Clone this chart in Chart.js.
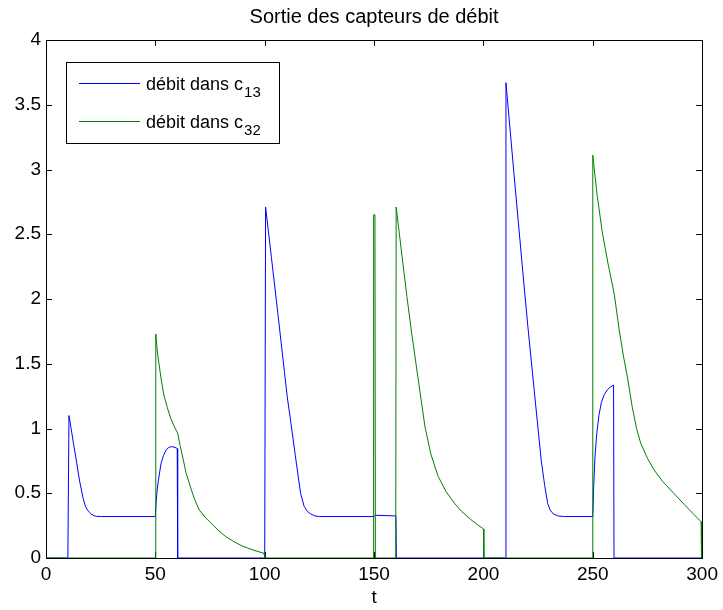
<!DOCTYPE html>
<html>
<head>
<meta charset="utf-8">
<script src="https://cdn.jsdelivr.net/npm/chart.js@4/dist/chart.umd.min.js"></script>
<style>
  html, body { margin: 0; padding: 0; background: #fff; }
  #wrap { width: 723px; height: 610px; }
</style>
</head>
<body>
<div id="wrap"><canvas id="chart" width="723" height="610"></canvas></div>
<script>
const titleText = 'Sortie des capteurs de débit';
const xLabel = 't';
const legendLabels = ['débit dans c', 'débit dans c'];
const legendSubs = ['13', '32'];

// débit dans c13
const tBlue = [0, 10, 10.5, 11.5, 12.5, 14, 15.2, 16.2, 17, 18, 19, 20, 21, 22, 23, 25,
  50, 50.3, 50.8, 51.4, 52.6, 53.7, 54.9, 56, 57.2, 58.5, 59.5, 60, 60.2,
  100, 100.4, 103, 106, 109, 110.3, 112, 114, 116.4, 118, 119.5, 121, 123, 125,
  150, 150.5, 160, 160.2,
  210, 210.3, 214, 218, 220.3, 223, 226.4, 228, 229.4, 230.5, 232, 234, 237,
  250, 250.4, 251, 251.8, 252.8, 253.9, 255.2, 256.7, 258, 259.5, 259.7, 300];
const yBlue = [0, 0, 1.10, 1.0, 0.89, 0.74, 0.61, 0.525, 0.46, 0.40, 0.37, 0.35, 0.335, 0.327, 0.322, 0.32,
  0.32, 0.42, 0.52, 0.6, 0.73, 0.79, 0.834, 0.852, 0.86, 0.857, 0.85, 0.845, 0,
  0, 2.71, 2.33, 1.89, 1.44, 1.245, 1.04, 0.79, 0.50, 0.40, 0.36, 0.34, 0.325, 0.32,
  0.32, 0.33, 0.325, 0,
  0, 3.67, 2.96, 2.21, 1.79, 1.33, 0.757, 0.56, 0.42, 0.37, 0.34, 0.325, 0.32,
  0.32, 0.55, 0.78, 0.96, 1.1, 1.2, 1.26, 1.3, 1.32, 1.335, 0, 0];

// débit dans c32
const tGreen = [0, 50, 50.2, 51, 52.7, 54, 55.5, 57, 58.5, 60.2, 61.3, 62.5, 64, 66, 68, 70.1,
  73, 76, 79, 82.2, 86, 90, 95, 99.7, 100,
  149.6, 149.8, 150.4, 150.6,
  159.9, 160.1, 163, 165, 167.2, 170, 173.3, 176, 179.3, 183, 186.9, 190, 194, 197.5, 200, 200.2,
  249.8, 250, 252, 254.4, 257, 259.8, 262, 264, 265.8, 268, 270, 271.9, 275, 278, 282, 287, 292,
  296, 298.4, 299.5, 299.7, 300];
const yGreen = [0, 0, 1.73, 1.58, 1.375, 1.25, 1.16, 1.08, 1.02, 0.963, 0.87, 0.78, 0.66, 0.55, 0.45, 0.37,
  0.31, 0.26, 0.21, 0.165, 0.125, 0.09, 0.06, 0.036, 0,
  0, 2.65, 2.65, 0,
  0, 2.71, 2.30, 2.02, 1.735, 1.40, 1.01, 0.80, 0.63, 0.51, 0.42, 0.36, 0.30, 0.255, 0.225, 0,
  0, 3.11, 2.80, 2.51, 2.27, 2.04, 1.77, 1.56, 1.40, 1.17, 1.0, 0.886, 0.77, 0.68, 0.59, 0.50, 0.41,
  0.34, 0.30, 0.28, 0, 0];

const xTicks = [0, 50, 100, 150, 200, 250, 300];
const yTicks = [0, 0.5, 1, 1.5, 2, 2.5, 3, 3.5, 4];

const fontFamily = '"Liberation Sans", Arial, Helvetica, sans-serif';
const blue = '#0000ff';
const green = '#008000';

const toPoints = (ts, ys) => ts.map((t, i) => ({ x: t, y: ys[i] }));

// box, inward tick marks, title and legend, MATLAB style
const matlabAxes = {
  id: 'matlabAxes',
  beforeDatasetsDraw(chart) {
    const { ctx, chartArea: a, scales } = chart;
    const tl = 6;
    ctx.save();
    ctx.strokeStyle = '#000';
    ctx.lineWidth = 1;
    ctx.strokeRect(Math.round(a.left) + 0.5, Math.round(a.top) + 0.5,
      Math.round(a.right - a.left), Math.round(a.bottom - a.top));
    ctx.beginPath();
    xTicks.forEach((v) => {
      const px = Math.round(scales.x.getPixelForValue(v)) + 0.5;
      ctx.moveTo(px, a.bottom); ctx.lineTo(px, a.bottom - tl);
      ctx.moveTo(px, a.top); ctx.lineTo(px, a.top + tl);
    });
    yTicks.forEach((v) => {
      const py = Math.round(scales.y.getPixelForValue(v)) + 0.5;
      ctx.moveTo(a.left, py); ctx.lineTo(a.left + tl, py);
      ctx.moveTo(a.right, py); ctx.lineTo(a.right - tl, py);
    });
    ctx.stroke();
    ctx.restore();
  },
  afterDraw(chart) {
    const { ctx, chartArea: a } = chart;
    ctx.save();
    ctx.fillStyle = '#000';
    ctx.font = '20px ' + fontFamily;
    ctx.textAlign = 'center';
    ctx.textBaseline = 'middle';
    ctx.fillText(titleText, (a.left + a.right) / 2, 17);

    // legend
    const bx = 66.5, by = 62.5, bw = 213, bh = 81;
    ctx.fillStyle = '#fff';
    ctx.fillRect(bx, by, bw, bh);
    ctx.strokeStyle = '#000';
    ctx.lineWidth = 1;
    ctx.strokeRect(bx, by, bw, bh);
    const rows = [{ y: 83.5, color: blue }, { y: 121.5, color: green }];
    rows.forEach((r, i) => {
      ctx.strokeStyle = r.color;
      ctx.beginPath();
      ctx.moveTo(79, r.y); ctx.lineTo(140, r.y);
      ctx.stroke();
      ctx.fillStyle = '#000';
      ctx.textAlign = 'left';
      ctx.textBaseline = 'alphabetic';
      ctx.font = '18px ' + fontFamily;
      ctx.fillText(legendLabels[i], 146, r.y + 6);
      const w = ctx.measureText(legendLabels[i]).width;
      ctx.font = '15px ' + fontFamily;
      ctx.fillText(legendSubs[i], 146 + w + 1, r.y + 13);
    });
    ctx.restore();
  }
};

const ctx = document.getElementById('chart');
new Chart(ctx, {
  type: 'line',
  data: {
    datasets: [
      {
        label: 'débit dans c13',
        data: toPoints(tBlue, yBlue),
        borderColor: blue,
        borderWidth: 1,
        pointRadius: 0,
        tension: 0,
        order: 1
      },
      {
        label: 'débit dans c32',
        data: toPoints(tGreen, yGreen),
        borderColor: green,
        borderWidth: 1,
        pointRadius: 0,
        tension: 0,
        order: 0
      }
    ]
  },
  options: {
    responsive: false,
    animation: false,
    events: [],
    layout: { padding: { top: 40, right: 18, left: 0, bottom: 0 } },
    plugins: {
      legend: { display: false },
      title: { display: false },
      tooltip: { enabled: false }
    },
    scales: {
      x: {
        type: 'linear',
        min: 0,
        max: 300,
        afterBuildTicks: (scale) => { scale.ticks = xTicks.map((v) => ({ value: v })); },
        afterFit: (scale) => { scale.height = 52; },
        ticks: { color: '#000', font: { family: fontFamily, size: 19 }, padding: 5, maxRotation: 0, callback: (v) => String(v) },
        grid: { display: false, drawTicks: false },
        border: { display: false },
        title: { display: true, text: xLabel, color: '#000', font: { family: fontFamily, size: 19 }, padding: { top: 0, bottom: 1 } }
      },
      y: {
        min: 0,
        max: 4,
        afterBuildTicks: (scale) => { scale.ticks = yTicks.map((v) => ({ value: v })); },
        afterFit: (scale) => { scale.width = 46; },
        ticks: { color: '#000', font: { family: fontFamily, size: 19 }, padding: 5, callback: (v) => String(v) },
        grid: { display: false, drawTicks: false },
        border: { display: false }
      }
    }
  },
  plugins: [matlabAxes]
});
</script>
</body>
</html>
